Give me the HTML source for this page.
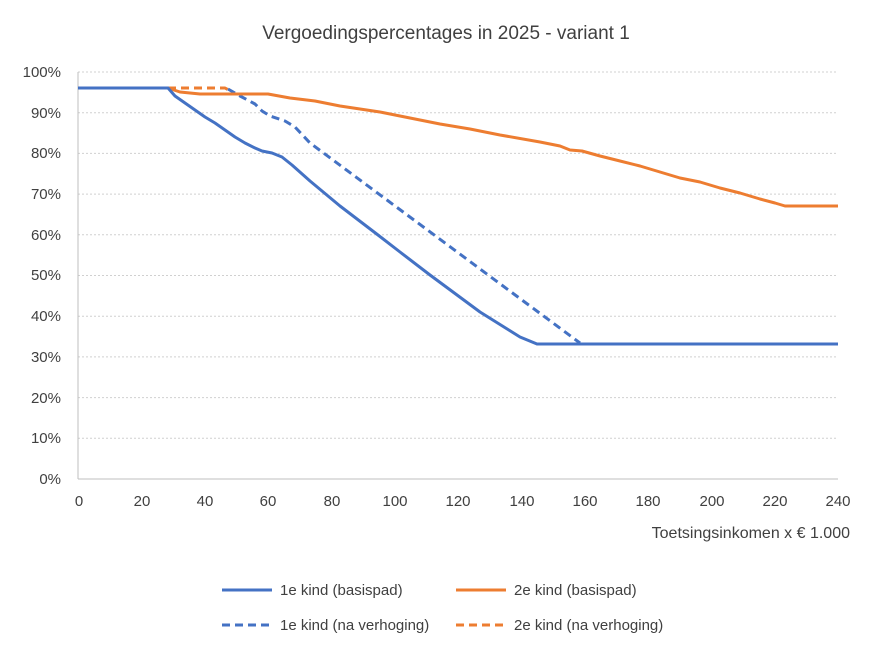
<!DOCTYPE html>
<html><head><meta charset="utf-8"><style>body{margin:0;background:#fff}svg{display:block}</style></head><body>
<svg width="887" height="649" viewBox="0 0 887 649" font-family="Liberation Sans, sans-serif">
<rect width="887" height="649" fill="#fff"/>
<text x="446" y="39" font-size="19" text-anchor="middle" fill="#404040">Vergoedingspercentages in 2025 - variant 1</text>
<g stroke="#d0d0d0" stroke-dasharray="2,2" stroke-width="1">
<line x1="78" x2="838" y1="72" y2="72"/><line x1="78" x2="838" y1="112.7" y2="112.7"/><line x1="78" x2="838" y1="153.4" y2="153.4"/><line x1="78" x2="838" y1="194.1" y2="194.1"/><line x1="78" x2="838" y1="234.8" y2="234.8"/><line x1="78" x2="838" y1="275.5" y2="275.5"/><line x1="78" x2="838" y1="316.2" y2="316.2"/><line x1="78" x2="838" y1="356.9" y2="356.9"/><line x1="78" x2="838" y1="397.6" y2="397.6"/><line x1="78" x2="838" y1="438.3" y2="438.3"/>
</g>
<line x1="78" x2="838" y1="479" y2="479" stroke="#bfbfbf"/>
<line x1="78" x2="78" y1="72" y2="479" stroke="#bfbfbf"/>
<g font-size="15" fill="#404040" text-anchor="end">
<text x="61" y="77">100%</text><text x="61" y="118">90%</text><text x="61" y="158">80%</text><text x="61" y="199">70%</text><text x="61" y="240">60%</text><text x="61" y="280">50%</text><text x="61" y="321">40%</text><text x="61" y="362">30%</text><text x="61" y="403">20%</text><text x="61" y="443">10%</text><text x="61" y="484">0%</text>
</g>
<g font-size="15" fill="#404040" text-anchor="middle">
<text x="79" y="506">0</text><text x="142" y="506">20</text><text x="205" y="506">40</text><text x="268" y="506">60</text><text x="332" y="506">80</text><text x="395" y="506">100</text><text x="458" y="506">120</text><text x="522" y="506">140</text><text x="585" y="506">160</text><text x="648" y="506">180</text><text x="712" y="506">200</text><text x="775" y="506">220</text><text x="838" y="506">240</text>
</g>
<text x="850" y="538" font-size="16" fill="#404040" text-anchor="end">Toetsingsinkomen x € 1.000</text>
<g fill="none" stroke-width="3" stroke-linejoin="round">
<polyline stroke="#ed7d31" stroke-dasharray="8,5" points="168,88 225,88 232,92"/>
<polyline stroke="#4472c4" stroke-dasharray="8,5" points="228,89 240,96 255,104 262,111 270,116 285,121 295,127 310,143 580,343"/>
<polyline stroke="#ed7d31" points="78,88 168,88 180,92 200,94 250,94 268,94 290,98 315,101 340,106 380,112 400,116 440,124 470,129 500,135 540,142 560,146 570,150 582,151 600,156 620,161 640,166 660,172 680,178 700,182 720,188 740,193 760,199 775,203 785,206 838,206"/>
<polyline stroke="#4472c4" points="78,88 168,88 175,96 185,103 195,110 205,117 215,123 225,130 235,137 245,143 255,148 262,151 272,153 282,157 292,165 310,181 340,206 378,235 400,252 430,275 480,312 520,337 537,344 838,344"/>
</g>
<g font-size="15" fill="#404040">
<line x1="222" x2="272" y1="590" y2="590" stroke="#4472c4" stroke-width="3"/><text x="280" y="595">1e kind (basispad)</text>
<line x1="456" x2="506" y1="590" y2="590" stroke="#ed7d31" stroke-width="3"/><text x="514" y="595">2e kind (basispad)</text>
<line x1="222" x2="272" y1="625" y2="625" stroke="#4472c4" stroke-width="3" stroke-dasharray="8,5"/><text x="280" y="630">1e kind (na verhoging)</text>
<line x1="456" x2="506" y1="625" y2="625" stroke="#ed7d31" stroke-width="3" stroke-dasharray="8,5"/><text x="514" y="630">2e kind (na verhoging)</text>
</g>
</svg>
</body></html>
